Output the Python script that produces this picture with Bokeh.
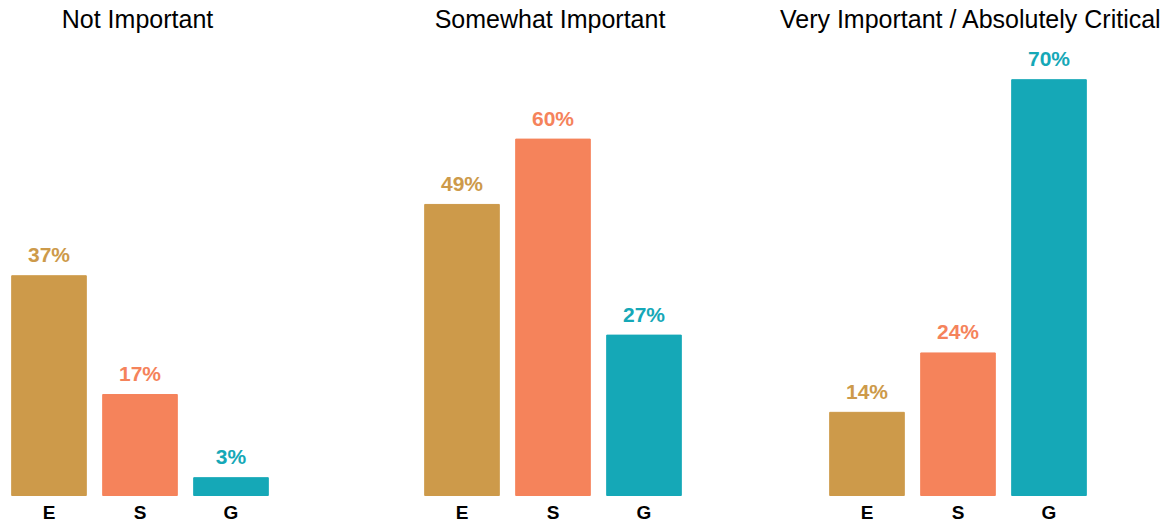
from bokeh.plotting import figure
from bokeh.layouts import row
from bokeh.models import ColumnDataSource, Label, Range1d, FactorRange
from bokeh.core.properties import value
from bokeh.embed import file_html
from bokeh.resources import INLINE

# ---- data ----
categories = ["E", "S", "G"]
panel_titles = ["Not Important", "Somewhat Important", "Very Important / Absolutely Critical"]
not_important = [37, 17, 3]
somewhat_important = [49, 60, 27]
very_important = [14, 24, 70]
bar_colors = ["#CD9A4A", "#F5835B", "#15A8B7"]

# ---- layout constants (pixels) ----
FONT = "Liberation Sans"
H = 523
BASE_PX = 495          # pixel row of the zero line
SCALE = 5.94           # pixels per percentage point
CELL = 91              # pixels per category slot
Y0 = -(H - BASE_PX) / SCALE
Y1 = BASE_PX / SCALE
VALUE_GAP = 21 / SCALE
CAT_Y = -16.5 / SCALE
TITLE_Y = (BASE_PX - 18) / SCALE


def make_panel(title, values, width, left, right, pad_cells, title_dx):
    src = ColumnDataSource(dict(
        cat=categories,
        val=values,
        color=bar_colors,
        label=[f"{v}%" for v in values],
        label_y=[v + VALUE_GAP for v in values],
        cat_y=[CAT_Y] * len(categories),
    ))
    p = figure(
        x_range=FactorRange(factors=categories, range_padding=pad_cells,
                            range_padding_units="absolute"),
        y_range=Range1d(Y0, Y1),
        width=width, height=H,
        output_backend="svg", toolbar_location=None,
        min_border_left=left, min_border_right=right,
        min_border_top=0, min_border_bottom=0,
        x_axis_location=None, y_axis_location=None,
        outline_line_color=None,
    )
    p.vbar(x="cat", top="val", bottom=0, width=0.82, color="color", source=src)
    p.text(x="cat", y="label_y", text="label", text_color="color",
           text_font=value(FONT), text_font_style="bold", text_font_size="21px",
           text_align="center", text_baseline="alphabetic", source=src)
    p.text(x="cat", y="cat_y", text="cat", text_color="black",
           text_font=value(FONT), text_font_style="bold", text_font_size="19px",
           text_align="center", text_baseline="alphabetic", source=src)
    p.xgrid.visible = False
    p.ygrid.visible = False
    p.add_layout(Label(x=1.5 + title_dx / CELL, y=TITLE_Y, text=title,
                       text_align="center", text_baseline="alphabetic",
                       text_font=FONT, text_font_size="25px", text_color="black"))
    return p


p1 = make_panel(panel_titles[0], not_important, 350, 3, 74, 0, -2.5)
p2 = make_panel(panel_titles[1], somewhat_important, 392, 66, 53, 0, -3)
p3 = make_panel(panel_titles[2], very_important, 431, 0, 0, 0.868, 13)

layout = row(p1, p2, p3)
open("out.html", "w").write(file_html(layout, INLINE))
